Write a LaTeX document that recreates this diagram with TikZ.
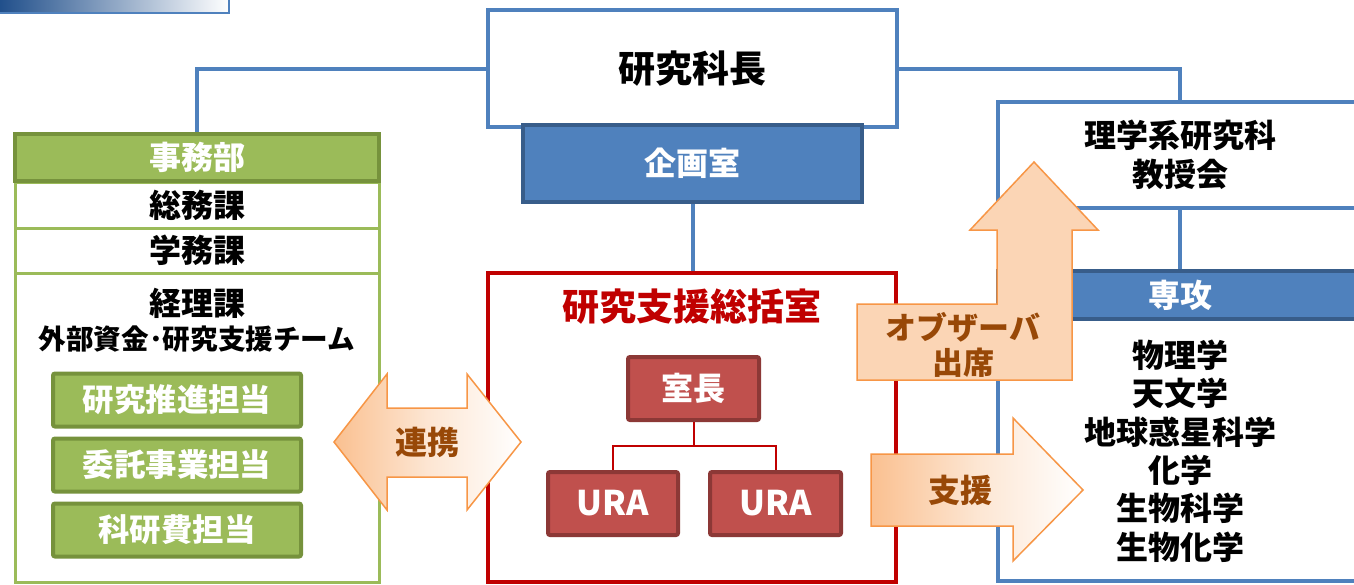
\documentclass[tikz,border=0pt]{standalone}
\usepackage{fontspec}
\setmainfont{Noto Sans CJK JP}
\definecolor{ofblue}{HTML}{4F81BD}
\definecolor{ofbluedark}{HTML}{385D8A}
\definecolor{ofgreen}{HTML}{9BBB59}
\definecolor{ofgreendark}{HTML}{76923C}
\definecolor{ofred}{HTML}{C00000}
\definecolor{ofredfill}{HTML}{C0504D}
\definecolor{ofreddark}{HTML}{8C3836}
\definecolor{oforange}{HTML}{F79646}
\definecolor{ofpeach}{HTML}{FBD5B5}
\definecolor{ofpeachdeep}{HTML}{FAC090}
\definecolor{ofbrown}{HTML}{984807}
\definecolor{topdark}{HTML}{1F4E8A}
\tikzset{
  fs/.style={font=\bfseries\fontsize{#1}{#1}\selectfont},
  conn/.style={draw=ofblue, line width=2pt},
  redconn/.style={draw=ofred, line width=1pt},
  wbox/.style={draw=ofblue, line width=2pt, fill=white, inner sep=0pt},
  bluehead/.style={draw=ofbluedark, line width=2pt, fill=ofblue, text=white, inner sep=0pt},
  greenhead/.style={draw=ofgreendark, line width=2pt, fill=ofgreen, text=white, inner sep=0pt, rounded corners=1pt},
  greenrow/.style={draw=ofgreen, line width=1.5pt, fill=white, inner sep=0pt},
  redhead/.style={draw=ofreddark, line width=2pt, fill=ofredfill, text=white, inner sep=0pt, rounded corners=1pt},
  redframe/.style={draw=ofred, line width=2pt, fill=white, inner sep=0pt},
  arrowline/.style={draw=oforange, line width=0.75pt},
  arrowtext/.style={text=ofbrown, inner sep=0pt, fs=16},
  plaintext/.style={text=black, inner sep=0pt},
}
\begin{document}
\begin{tikzpicture}[x=0.5pt,y=-0.5pt]
\useasboundingbox (0,0) rectangle (1354,584);
\clip (0,0) rectangle (1354,584);
% top-left gradient bar
\shade[left color=topdark, right color=white] (-2,-2) rectangle (229,13);
\draw[draw=ofblue, line width=0.6pt] (-2,13) -- (229,13) -- (229,-2);

% left block
\node[greenrow, minimum width=182pt, minimum height=224pt] (jimubox) at (197,358) {};
\node[greenrow, minimum width=182pt, minimum height=23pt] (soumu) at (197,205) {};
\node[greenrow, minimum width=182pt, minimum height=22.5pt] (gakumu) at (197,250.5) {};
\node[plaintext, fs=16] at (soumu) {総務課};
\node[plaintext, fs=16] at (gakumu) {学務課};
\node[greenhead, rounded corners=0pt, minimum width=182pt, minimum height=23.5pt, fs=16] (jimu) at (197,157.5) {事務部};
\node[plaintext, fs=16] (keiri) at (197,303) {経理課};
\node[plaintext, fs=13.8] (gaibu) at (197,339) {外部資金･研究支援チーム};
\node[greenhead, minimum width=124pt, minimum height=26.5pt, fs=15.7] (suishin) at (177,400) {研究推進担当};
\node[greenhead, minimum width=124pt, minimum height=26.5pt, fs=15.7] (itaku) at (177,465) {委託事業担当};
\node[greenhead, minimum width=124pt, minimum height=26.5pt, fs=15.7] (kaken) at (177,530) {科研費担当};

% centre block
\node[redframe, minimum width=204pt, minimum height=154.5pt] (sokatsu) at (692,427.5) {};
\node[text=ofred, inner sep=0pt, fs=18.5] (sokatsutitle) at (692,307) {研究支援総括室};
\node[redhead, minimum width=65.5pt, minimum height=31.5pt, fs=16] (shicho) at (693.5,388.5) {室長};
\node[redhead, minimum width=65pt, minimum height=31.5pt, fs=17] (uraA) at (613,503.5) {URA};
\node[redhead, minimum width=65.5pt, minimum height=31.5pt, fs=17] (uraB) at (775.5,503.5) {URA};
\coordinate (split) at (693.5,446);
\draw[redconn] (shicho.south) -- (split) -| (uraA.north);
\draw[redconn] (split) -| (uraB.north);

% dean and planning office
\node[wbox, minimum width=204.5pt, minimum height=58.5pt, fs=18.5] (dean) at (692.5,68.5) {研究科長};
\node[bluehead, minimum width=169.5pt, minimum height=38.5pt, fs=16] (plan) at (692.5,163.5) {企画室};
\draw[conn] (plan.south) -- (plan.south |- sokatsu.north);

% right block
\node[wbox, minimum width=182pt, minimum height=53pt, align=center, font=\bfseries\fontsize{16}{19.5}\selectfont] (rigaku) at (1180,155) {理学系研究科\\教授会};
\node[wbox, minimum width=182pt, minimum height=155pt] (senkoubox) at (1180,426) {};
\node[bluehead, minimum width=182pt, minimum height=24pt, fs=16] (senkou) at (1180,295) {専攻};
\node[plaintext, align=center, font=\bfseries\fontsize{16}{19.2}\selectfont] (list) at (1180,451)
  {物理学\\天文学\\地球惑星科学\\化学\\生物科学\\生物化学};
\draw[conn] (rigaku.south) -- (senkou.north);

% connectors from dean
\draw[conn] (dean.west) -| (jimu.north);
\draw[conn] (dean.east) -| (rigaku.north);

% double arrow 連携
\path[arrowline, left color=ofpeachdeep, right color=white, middle color=ofpeach!60]
  (334,442) -- (387,374) -- (387,408) -- (467,408) -- (467,374) -- (521,442)
  -- (467,510) -- (467,477) -- (387,477) -- (387,510) -- cycle;
\node[arrowtext] (renkei) at (427,442) {連携};

% observer arrow
\path[arrowline, fill=ofpeach]
  (857,304) -- (997,304) -- (997,230) -- (970,230) -- (1034,162) -- (1098,230)
  -- (1072,230) -- (1072,380) -- (857,380) -- cycle;
\node[arrowtext, fs=15.5] (obs) at (963,327) {オブザーバ};
\node[arrowtext, fs=15.5] (shusseki) at (963,363) {出席};

% support arrow
\path[arrowline, left color=ofpeachdeep, right color=white, middle color=ofpeach!60]
  (871,454) -- (1013,454) -- (1013,418) -- (1083,490) -- (1013,561) -- (1013,526)
  -- (871,526) -- cycle;
\node[arrowtext] (shien) at (960,490) {支援};
\end{tikzpicture}
\end{document}
